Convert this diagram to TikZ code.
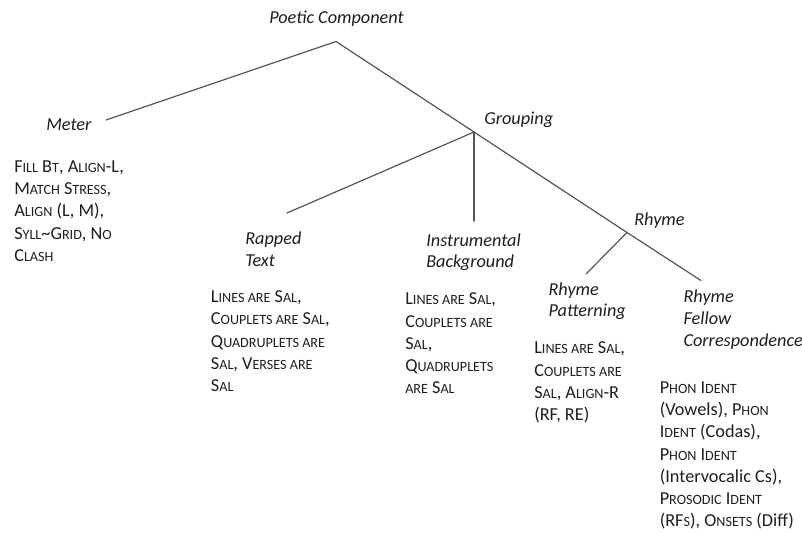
\documentclass[tikz,border=0pt]{standalone}
\usepackage{fontspec}
\setmainfont{Carlito}
\usepackage{tikz, tkz-euclide}
\usetikzlibrary{positioning}

\definecolor{branch}{RGB}{85,85,85}
\definecolor{ink}{RGB}{30,30,30}

% small capitals by hand (the font has none)
\newcommand\smc[1]{{\fontsize{10.6}{16.7}\selectfont\MakeUppercase{#1}}}

\tikzset{
  cat/.style={anchor=north west, inner sep=0pt, text=ink,
    font=\fontsize{13.7}{16.2}\selectfont\itshape, align=left,
    execute at begin node=\strut},
  cons/.style={anchor=north west, inner sep=0pt, text=ink,
    font=\fontsize{13.7}{16.7}\selectfont, align=left,
    execute at begin node=\strut}
}

\begin{document}
\begin{tikzpicture}[x=0.75pt, y=-0.75pt]

    \useasboundingbox (0,0) rectangle (802,532);

    \tkzDefPoint(336,41.5){P}
    \tkzDefPoint(106,120){M}
    \tkzDefPoint(474,132){G}
    \tkzDefPoint(627,232.5){R}
    \tkzDefPoint(701,280.5){E}
    \tkzDefPoint(287,213){T}
    \tkzDefPoint(474,221){I}
    \tkzDefPoint(586,274){Q}

    \tkzDrawSegments[color=branch, line width=0.9pt](P,M P,G G,R R,E)
    \tkzDrawSegments[color=branch, line width=0.9pt](G,T G,I R,Q)

    % category labels
    \node[cat] (poetic) at (269,8.2) {Poetic Component};
    \node[cat] (meter) at (46,114.9) {Meter};
    \node[cat] (grouping) at (484,108.9) {Grouping};
    \node[cat] (rapped) at (245,231.6) {Rapped\\Text};
    \node[cat] (instr) at (426,233.2) {Instrumental\\Background};
    \node[cat] (rhyme) at (634,210.6) {Rhyme};
    \node[cat] (pattern) at (548.3,282.2) {Rhyme\\Patterning};
    \node[cat] (fellow) at (683.3,289.9) {Rhyme\\Fellow\\Correspondence};

    % constraints
    \node[cons] (meterC) at (14,160.4)
      {F\smc{ill} B\smc{t}, A\smc{lign}-L,\\M\smc{atch} S\smc{tress},\\A\smc{lign} (L, M),\\
       S\smc{yll}\textasciitilde G\smc{rid}, N\smc{o}\\C\smc{lash}};
    \node[cons] (rappedC) at (210.7,290.4)
      {L\smc{ines are} S\smc{al},\\C\smc{ouplets are} S\smc{al},\\Q\smc{uadruplets are}\\
       S\smc{al}, V\smc{erses are}\\S\smc{al}};
    \node[cons] (instrC) at (405,292.7)
      {L\smc{ines are} S\smc{al},\\C\smc{ouplets are}\\S\smc{al},\\
       Q\smc{uadruplets}\\\smc{are} S\smc{al}};
    \node[cons] (patternC) at (534,341.7)
      {L\smc{ines are} S\smc{al},\\C\smc{ouplets are}\\S\smc{al}, A\smc{lign}-R\\(RF, RE)};
    \node[cons] (fellowC) at (659.5,381.4)
      {P\smc{hon} I\smc{dent}\\(Vowels), P\smc{hon}\\I\smc{dent} (Codas),\\
       P\smc{hon} I\smc{dent}\\(Intervocalic Cs),\\P\smc{rosodic} I\smc{dent}\\
       (RF\smc{s}), O\smc{nsets}\ (Diff)};

  \end{tikzpicture}
\end{document}
